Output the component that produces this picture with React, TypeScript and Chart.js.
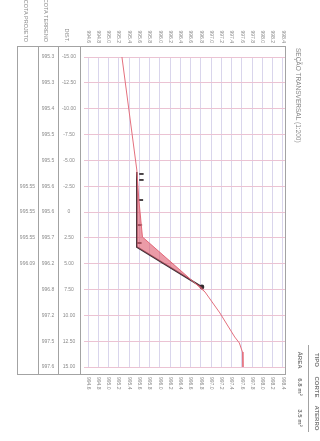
import React, { useEffect, useRef } from "react";
import { Chart, registerables } from "chart.js";

Chart.register(...registerables);

// Elevation axis (drawn horizontally on the page)
const elevTicks = [
  994.6, 994.8, 995.0, 995.2, 995.4, 995.6, 995.8, 996.0, 996.2, 996.4,
  996.6, 996.8, 997.0, 997.2, 997.4, 997.6, 997.8, 998.0, 998.2, 998.4,
];
// Offset axis (drawn vertically on the page)
const distTicks = [-15, -12.5, -10, -7.5, -5, -2.5, 0, 2.5, 5, 7.5, 10, 12.5, 15];
const distLabels = [
  "-15.00", "-12.50", "-10.00", "-7.50", "-5.00", "-2.50", "0",
  "2.50", "5.00", "7.50", "10.00", "12.50", "15.00",
];
const terrainTable = [
  "995.3", "995.3", "995.4", "995.5", "995.5", "995.6", "995.6",
  "995.7", "996.2", "996.8", "997.2", "997.5", "997.6",
];
const projectTable = ["", "", "", "", "", "995.55", "995.55", "995.55", "996.09", "", "", "", ""];

// Terrain profile (offset, elevation)
const terrainD = [-15, -4.06, -1.16, 2.42, 7.74, 9.77, 12.1, 12.68, 13.55, 14.61, 15];
const terrainE = [995.26, 995.55, 995.59, 995.66, 996.88, 997.17, 997.46, 997.55, 997.61, 997.62, 997.62];
// Project section (offset, elevation)
const projectD = [-3.87, 3.39, 7.26];
const projectE = [995.55, 995.55, 996.82];
// Hatch marks on the platform edge
const hatchD = [-3.68, -3.1, -1.16, 1.26, 3.0];
const hatchE = [995.64, 995.64, 995.63, 995.61, 995.6];

const headers = ["COTA PROJETO", "COTA TERRENO", "DIST."];
const title = "SEÇÃO TRANSVERSAL (1:200)";
const areaLeft = ["ÁREA", "6.8 m²", "3.5 m²"];
const areaRight = ["TIPO", "CORTE", "ATERRO"];

const FONT = "'Liberation Sans', Arial, sans-serif";

function rotText(ctx: CanvasRenderingContext2D, t: string, x: number, y: number, align: CanvasTextAlign) {
  ctx.save();
  ctx.translate(x, y);
  ctx.rotate(Math.PI / 2);
  ctx.textAlign = align;
  ctx.textBaseline = "middle";
  ctx.fillText(t, 0, 0);
  ctx.restore();
}

const decor = {
  id: "decor",
  beforeDraw(chart: any) {
    const ctx = chart.ctx;
    ctx.save();
    ctx.fillStyle = "#ffffff";
    ctx.fillRect(0, 0, chart.width, chart.height);
    ctx.restore();
  },
  afterDraw(chart: any) {
    const ctx: CanvasRenderingContext2D = chart.ctx;
    const xs = chart.scales.x;
    const ys = chart.scales.y;
    const top = 46;
    const bottom = 374;
    const left = 17;
    const right = 285;
    ctx.save();
    ctx.strokeStyle = "#a3a3a3";
    ctx.lineWidth = 1;
    ctx.strokeRect(left + 0.5, top + 0.5, right - left, bottom - top);
    [38, 58, 80].forEach((cx) => {
      ctx.beginPath();
      ctx.moveTo(cx + 0.5, top);
      ctx.lineTo(cx + 0.5, bottom);
      ctx.stroke();
    });
    // separator in bottom-right block
    ctx.beginPath();
    ctx.moveTo(308.5, 345);
    ctx.lineTo(308.5, 432);
    ctx.stroke();

    ctx.fillStyle = "#8a8a8a";
    ctx.font = `5px ${FONT}`;
    // elevation tick labels (rotated)
    elevTicks.forEach((v) => {
      const px = xs.getPixelForValue(v);
      rotText(ctx, v.toFixed(1), px, 43, "right");
      rotText(ctx, v.toFixed(1), px, 377, "left");
    });
    // table rows
    ctx.textBaseline = "middle";
    ctx.textAlign = "center";
    distTicks.forEach((d, i) => {
      const py = ys.getPixelForValue(d);
      ctx.fillText(distLabels[i], 69, py);
      ctx.fillText(terrainTable[i], 48, py);
      if (projectTable[i]) ctx.fillText(projectTable[i], 27.5, py);
    });
    // headers
    ctx.font = `5.5px ${FONT}`;
    rotText(ctx, headers[0], 26, 42, "right");
    rotText(ctx, headers[1], 46, 42, "right");
    rotText(ctx, headers[2], 67, 42, "right");
    // title
    ctx.font = `6.5px ${FONT}`;
    rotText(ctx, title, 298, 48, "left");
    // area block
    ctx.font = `bold 6px ${FONT}`;
    ctx.fillStyle = "#777";
    const ay = [360, 387, 418];
    areaLeft.forEach((t, i) => rotText(ctx, t, 300, ay[i], "center"));
    areaRight.forEach((t, i) => rotText(ctx, t, 317, ay[i], "center"));
    ctx.restore();
  },
};

export default function App() {
  const ref = useRef<HTMLCanvasElement | null>(null);
  useEffect(() => {
    if (!ref.current) return;
    const terrain = terrainD.map((d, i) => ({ x: terrainE[i], y: d }));
    const project = projectD.map((d, i) => ({ x: projectE[i], y: d }));
    const hatch = hatchD.map((d, i) => ({ x: hatchE[i], y: d }));
    // fill polygon between project line and terrain line (cut zone)
    const poly = [...project, ...terrain.slice(1, 5).reverse()];
    const chart = new Chart(ref.current, {
      type: "scatter",
      data: {
        datasets: [
          {
            data: poly,
            showLine: true,
            fill: "shape" as any,
            backgroundColor: "rgba(222,88,108,0.6)",
            borderWidth: 0,
            pointRadius: 0,
            tension: 0,
          },
          {
            data: terrain,
            showLine: true,
            borderColor: "#e4707e",
            borderWidth: 1,
            pointRadius: 0,
            fill: false,
          },
          {
            data: project,
            showLine: true,
            borderColor: "#3b3036",
            borderWidth: 1.6,
            pointRadius: [0, 0, 2.4],
            pointBackgroundColor: "#2f2a2e",
            pointBorderWidth: 0,
            fill: false,
          },
          {
            data: hatch,
            showLine: false,
            pointStyle: "line",
            pointRadius: 2.2,
            borderColor: "#3a3236",
            borderWidth: 1.8,
          },
        ],
      },
      options: {
        animation: false,
        responsive: false,
        maintainAspectRatio: false,
        layout: { padding: { left: 84, right: 35, top: 57, bottom: 74 } },
        plugins: { legend: { display: false }, tooltip: { enabled: false } },
        scales: {
          x: {
            type: "linear",
            min: 994.52,
            max: 998.44,
            afterBuildTicks: (s: any) => {
              s.ticks = elevTicks.map((v) => ({ value: v }));
            },
            ticks: { display: false },
            grid: { color: "#d9d5ec", lineWidth: 1, drawTicks: false },
            border: { display: false },
          },
          y: {
            type: "linear",
            reverse: true,
            min: -15,
            max: 15,
            afterBuildTicks: (s: any) => {
              s.ticks = distTicks.map((v) => ({ value: v }));
            },
            ticks: { display: false },
            grid: { color: "#ebc3d3", lineWidth: 1, drawTicks: false },
            border: { display: false },
          },
        },
      },
      plugins: [decor],
    });
    return () => chart.destroy();
  }, []);
  return (
    <div style={{ position: "absolute", left: 0, top: 0, width: 320, height: 441, background: "#fff" }}>
      <canvas ref={ref} width={320} height={441} style={{ width: 320, height: 441, display: "block" }} />
    </div>
  );
}
